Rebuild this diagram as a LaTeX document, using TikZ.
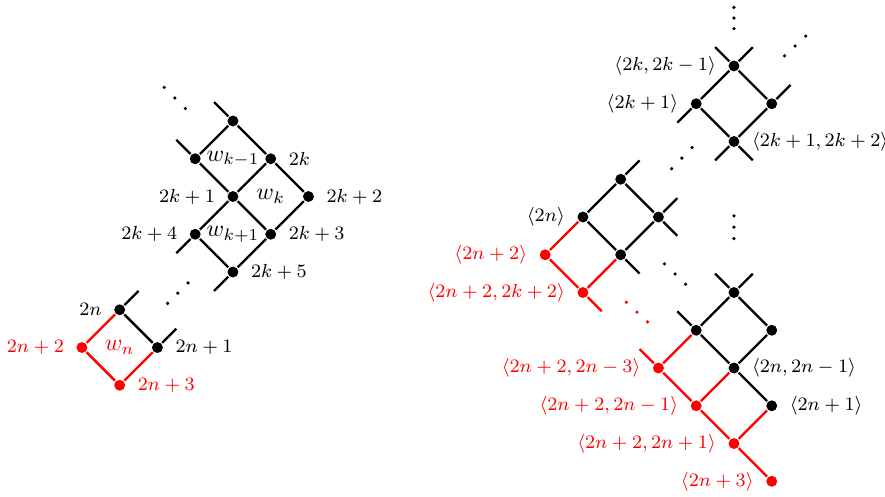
\documentclass[tikz,border=0pt]{standalone}
\begin{document}
\begin{tikzpicture}[x=0.56cm, y=0.56cm, line width=1pt,
  punto/.style={circle, fill, inner sep=0pt, minimum size=4.6pt},
  rpunto/.style={punto, fill=red},
  every label/.style={font=\footnotesize},
  label distance=1pt]
\useasboundingbox (0,0) rectangle (23.44,-13.14);

% Reticolo sinistro
\begin{scope}[shift={(6.17,-3.205)}]
\node[punto] (a) at (0,0) {};
\node[punto] (b) at (-1,-1) {};
\node[punto, label=right:$2k$] (c) at (1,-1) {};
\node[punto, label=left:$2k+1$] (d) at (0,-2) {};
\node[punto, label=right:$2k+2$] (e) at (2,-2) {};
\node[punto, label=left:$2k+4$] (f) at (-1,-3) {};
\node[punto, label=right:$2k+3$] (g) at (1,-3) {};
\node[punto, label=right:$2k+5$] (h) at (0,-4) {};
\node[punto, label=left:$2n$] (p) at (-3,-5) {};
\node[punto, label=right:$2n+1$] (q) at (-2,-6) {};
\node[rpunto, label={[red]left:$2n+2$}] (r) at (-4,-6) {};
\node[rpunto, label={[red]right:$2n+3$}] (s) at (-3,-7) {};

% Lati
\draw (a) -- (b) (a) -- (c) (b) -- (d) (c) -- (d) (c) -- (e);
\draw (d) -- (f) (d) -- (g) (e) -- (g) (f) -- (h) (g) -- (h);
\draw (p) -- (q);
\draw[red] (p) -- (r) -- (s) -- (q);

% Tratti liberi
\draw (a) -- ++(-0.5,0.5);
\draw (b) -- ++(-0.5,0.5);
\draw (f) -- ++(-0.5,-0.5);
\draw (h) -- ++(-0.5,-0.5);
\draw (p) -- ++(0.5,0.5);
\draw (q) -- ++(0.5,0.5);

% Facce
\node (wa) at (0,-1) {$w_{k-1}$};
\node (wb) at (1,-2) {$w_k$};
\node (wc) at (0,-3) {$w_{k+1}$};
\node[red] (wn) at (-3,-6) {$w_n$};

% Puntini
\foreach \cx/\cy/\sx/\sy in {-1.54/0.61/0.28/-0.28, -1.46/-4.56/0.27/0.27}
  \foreach \t in {-1,0,1}
    \fill ({\cx+\t*\sx},{\cy+\t*\sy}) circle (0.75pt);
\end{scope}

% Reticolo destro
\begin{scope}[shift={(19.44,-1.748)}]
% Blocco superiore
\node[punto, label={left:$\langle 2k,2k-1\rangle$}] (k1) at (0,0) {};
\node[punto, label={left:$\langle 2k+1\rangle$}] (k2) at (-1,-1) {};
\node[punto] (k3) at (1,-1) {};
\node[punto, label={right:$\langle 2k+1,2k+2\rangle$}] (k4) at (0,-2) {};
\draw (k1) -- (k2) -- (k4) -- (k3) -- (k1);
\draw (k1) -- ++(-0.5,0.5);
\draw (k1) -- ++(0.5,0.5);
\draw (k2) -- ++(-0.5,-0.5);
\draw (k3) -- ++(0.5,0.5);
\draw (k4) -- ++(-0.5,-0.5);
\draw (k4) -- ++(0.5,-0.5);

% Blocco centrale
\node[punto] (m1) at (-3,-3) {};
\node[punto, label={left:$\langle 2n\rangle$}] (m2) at (-4,-4) {};
\node[punto] (m3) at (-2,-4) {};
\node[punto] (m4) at (-3,-5) {};
\node[rpunto, label={[red]left:$\langle 2n+2\rangle$}] (m5) at (-5,-5) {};
\node[rpunto, label={[red]left:$\langle 2n+2,2k+2\rangle$}] (m6) at (-4,-6) {};
\draw (m1) -- (m2) -- (m4) -- (m3) -- (m1);
\draw[red] (m2) -- (m5) -- (m6) -- (m4);
\draw (m1) -- ++(0.5,0.5);
\draw (m3) -- ++(0.5,0.5);
\draw (m3) -- ++(0.5,-0.5);
\draw (m4) -- ++(0.5,-0.5);
\draw[red] (m6) -- ++(0.5,-0.5);

% Blocco inferiore
\node[punto] (l1) at (0,-6) {};
\node[punto] (l2) at (-1,-7) {};
\node[punto] (l3) at (1,-7) {};
\node[punto, label={right:$\langle 2n,2n-1\rangle$}] (l4) at (0,-8) {};
\node[rpunto, label={[red]left:$\langle 2n+2,2n-3\rangle$}] (l5) at (-2,-8) {};
\node[punto, label={right:$\langle 2n+1\rangle$}] (l6) at (1,-9) {};
\node[rpunto, label={[red]left:$\langle 2n+2,2n-1\rangle$}] (l7) at (-1,-9) {};
\node[rpunto, label={[red]left:$\langle 2n+2,2n+1\rangle$}] (l8) at (0,-10) {};
\node[rpunto, label={[red]left:$\langle 2n+3\rangle$}] (l9) at (1,-11) {};
\draw (l1) -- (l2) -- (l4) -- (l3) -- (l1);
\draw (l4) -- (l6);
\draw[red] (l2) -- (l5) -- (l7) -- (l4);
\draw[red] (l7) -- (l8) -- (l6);
\draw[red] (l8) -- (l9);
\draw (l1) -- ++(-0.5,0.5);
\draw (l1) -- ++(0.5,0.5);
\draw (l2) -- ++(-0.5,0.5);
\draw[red] (l5) -- ++(-0.5,0.5);

% Puntini
\foreach \cx/\cy/\sx/\sy in {0/1.27/0/0.28, 1.62/0.53/0.28/0.26,
    -1.38/-2.44/0.27/0.28, 0/-4.27/0/0.3, -1.56/-5.51/0.28/-0.27}
  \foreach \t in {-1,0,1}
    \fill ({\cx+\t*\sx},{\cy+\t*\sy}) circle (0.75pt);
\foreach \t in {-1,0,1}
  \fill[red] ({-2.57+\t*0.28},{-6.52-\t*0.26}) circle (0.75pt);
\end{scope}
\end{tikzpicture}
\end{document}
